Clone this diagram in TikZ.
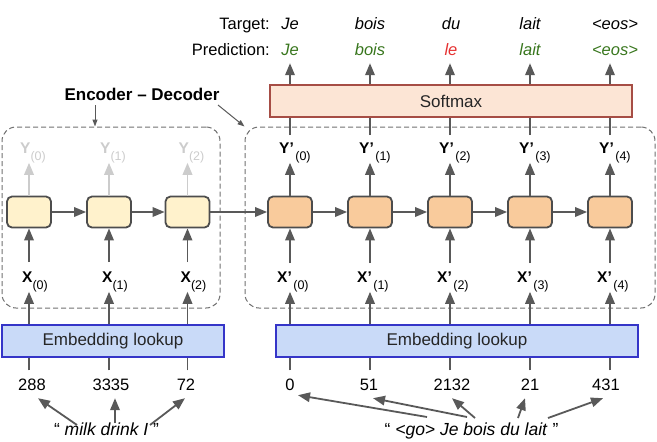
\documentclass[tikz,border=0pt]{standalone}
\usepackage{fontspec}
\setmainfont{Liberation Sans}
\usetikzlibrary{arrows.meta}
\definecolor{arrgray}{HTML}{595959}
\definecolor{lightgray}{HTML}{CCCCCC}
\definecolor{cellborder}{HTML}{4D4D4D}
\definecolor{encfill}{HTML}{FFF2CC}
\definecolor{decfill}{HTML}{F9CB9C}
\definecolor{dashgray}{HTML}{707070}
\definecolor{embfill}{HTML}{C9DAF8}
\definecolor{embborder}{HTML}{3535C8}
\definecolor{smfill}{HTML}{FCE5D5}
\definecolor{smborder}{HTML}{A64D45}
\definecolor{predgreen}{HTML}{38761D}
\definecolor{predred}{HTML}{E53030}
\newcommand\seqlab[3]{\textbf{#1}\kern#3\raisebox{-7pt}{\fontsize{12.5}{12.5}\selectfont(#2)}}
\begin{document}
\begin{tikzpicture}[x=1pt,y=-1pt,
  arr/.style={draw=arrgray, line width=1.8pt, -{Triangle[length=12pt,width=9.5pt]}},
  grayarr/.style={draw=lightgray, line width=1.8pt, -{Triangle[length=12pt,width=9.5pt]}},
  plainline/.style={draw=arrgray, line width=1.8pt},
  thinarr/.style={draw=arrgray, line width=1pt, -{Triangle[length=7pt,width=5pt]}},
  cellbox/.style={draw=cellborder, line width=1.8pt, rounded corners=5pt, minimum width=44pt, minimum height=31pt, inner sep=0pt},
  enccell/.style={cellbox, fill=encfill},
  deccell/.style={cellbox, fill=decfill},
  dashbox/.style={draw=dashgray, line width=1pt, dash pattern=on 5pt off 3pt, rounded corners=14pt, inner sep=0pt},
  embbox/.style={draw=embborder, fill=embfill, line width=1.3pt, inner sep=0pt, minimum height=32pt, font=\fontsize{17}{17}\selectfont, text=black!85},
  smbox/.style={draw=smborder, fill=smfill, line width=1.3pt, inner sep=0pt, minimum height=32pt, font=\fontsize{17}{17}\selectfont, text=black!85},
  lab/.style={inner sep=0pt, anchor=base west, font=\fontsize{15.5}{15.5}\selectfont},
  numlab/.style={inner xsep=2pt, inner ysep=8pt, text depth=0pt, anchor=base, font=\fontsize{16.5}{16.5}\selectfont},
  wordlab/.style={anchor=base, inner xsep=1pt, inner ysep=8pt, text depth=0pt, font=\fontsize{16.5}{16.5}\selectfont\itshape},
  txt/.style={inner sep=0pt, font=\fontsize{16.5}{16.5}\selectfont}
]
\path[use as bounding box] (0,0) rectangle (657,442);

% dashed group boxes
\node[dashbox, minimum width=218pt, minimum height=181pt] (encbox) at (111,217.5) {};
\node[dashbox, minimum width=410pt, minimum height=181pt] (decbox) at (450,217.5) {};

% label
\node[txt, anchor=base, font=\fontsize{17}{17}\selectfont\bfseries] (edlab) at (142,100) {Encoder – Decoder};
\coordinate (edA) at (95,105);
\coordinate (edB) at (218,105);
\draw[thinarr] (edA) -- (edA |- encbox.north);
\draw[thinarr] (edB) -- (decbox.north west);

% target / prediction headers
\node[txt, anchor=base east] (tgtlab) at (270,29) {Target:};
\node[txt, anchor=base east] (predlab) at (270,55) {Prediction:};

% softmax and embeddings
\node[smbox, minimum width=362pt] (sm) at (451,101) {Softmax};
\node[embbox, minimum width=222pt] (eemb) at (113,341) {Embedding lookup};
\node[embbox, minimum width=362pt] (demb) at (457,341) {Embedding lookup};

% encoder columns
\foreach \i/\x/\n/\v in {0/29/32/288,1/109/111/3335,2/187.5/186/72} {
  \node[enccell] (e\i) at (\x,212) {};
  \node[lab, text=lightgray] (ey\i) at (\x-9,153) {\seqlab{Y}{\i}{0pt}};
  \node[lab] (ex\i) at (\x-7,282) {\seqlab{X}{\i}{0pt}};
  \node[numlab] (en\i) at (\n,390) {\v};
  \draw[grayarr] (e\i.north) -- (e\i |- ey\i.south);
  \draw[arr, shorten <=9pt] (e\i |- ex\i.north) -- (e\i.south);
  \draw[arr] (e\i |- eemb.north) -- (e\i |- ex\i.south);
  \draw[plainline] (e\i |- en\i.north) -- (e\i |- eemb.south);
}

% decoder columns
\foreach \i/\x/\n/\v in {0/290/290/0,1/370/369/51,2/450/452/2132,3/530/530/21,4/610/606/431} {
  \node[deccell] (d\i) at (\x,212) {};
  \node[lab] (dy\i) at (\x-11,153) {\seqlab{Y’}{\i}{1.5pt}};
  \node[lab] (dx\i) at (\x-13,282) {\seqlab{X’}{\i}{1.5pt}};
  \node[numlab] (dn\i) at (\n,390) {\v};
  \draw[arr] (d\i.north) -- (d\i |- dy\i.south);
  \draw[plainline, shorten <=7pt] (d\i |- dy\i.north) -- (d\i |- sm.south);
  \draw[arr, shorten <=8pt] (d\i |- dx\i.north) -- (d\i.south);
  \draw[arr] (d\i |- demb.north) -- (d\i |- dx\i.south);
  \draw[plainline] (d\i |- dn\i.north) -- (d\i |- demb.south);
}

% targets and predictions
\foreach \i/\x/\w/\p/\c in {0/290/Je/Je/predgreen,1/370/bois/bois/predgreen,2/451/du/le/predred,3/530/lait/lait/predgreen,4/615/<eos>/<eos>/predgreen} {
  \node[wordlab] (t\i) at (\x,29) {\w};
  \node[wordlab, text=\c] (p\i) at (\x,55) {\p};
  \draw[arr] (d\i |- sm.north) -- (d\i |- p\i.south);
}

% recurrent connections
\draw[arr] (e0.east) -- (e1.west);
\draw[arr] (e1.east) -- (e2.west);
\draw[arr] (e2.east) -- (d0.west);
\draw[arr] (d0.east) -- (d1.west);
\draw[arr] (d1.east) -- (d2.west);
\draw[arr] (d2.east) -- (d3.west);
\draw[arr] (d3.east) -- (d4.west);

% input sentences
\node[txt, anchor=base, font=\fontsize{17.5}{17.5}\selectfont] (s1) at (106.5,435) {“ \textit{milk drink I} ”};
\node[txt, anchor=base, font=\fontsize{17.5}{17.5}\selectfont] (s2) at (471.5,435) {“ \textit{<go> Je bois du lait} ”};
\coordinate (s1a) at (77,425);
\coordinate (s1b) at (115,423);
\coordinate (s1c) at (150,425);
\draw[arr] (s1a) -- ([xshift=6pt]en0.south);
\draw[arr] (s1b) -- (s1b |- en1.south);
\draw[arr] (s1c) -- ([xshift=-1pt]en2.south);
\coordinate (s2a) at (427,417);
\coordinate (s2b) at (467,417);
\coordinate (s2c) at (475,418);
\coordinate (s2d) at (518,418);
\coordinate (s2e) at (548,418);
\draw[arr] (s2a) -- ([xshift=8pt,yshift=3pt]dn0.south);
\draw[arr] (s2b) -- ([xshift=4pt]dn1.south);
\draw[arr] (s2c) -- (dn2.south);
\draw[arr] (s2d) -- ([xshift=-5pt]dn3.south);
\draw[arr] (s2e) -- ([xshift=-3pt]dn4.south);
\end{tikzpicture}
\end{document}
